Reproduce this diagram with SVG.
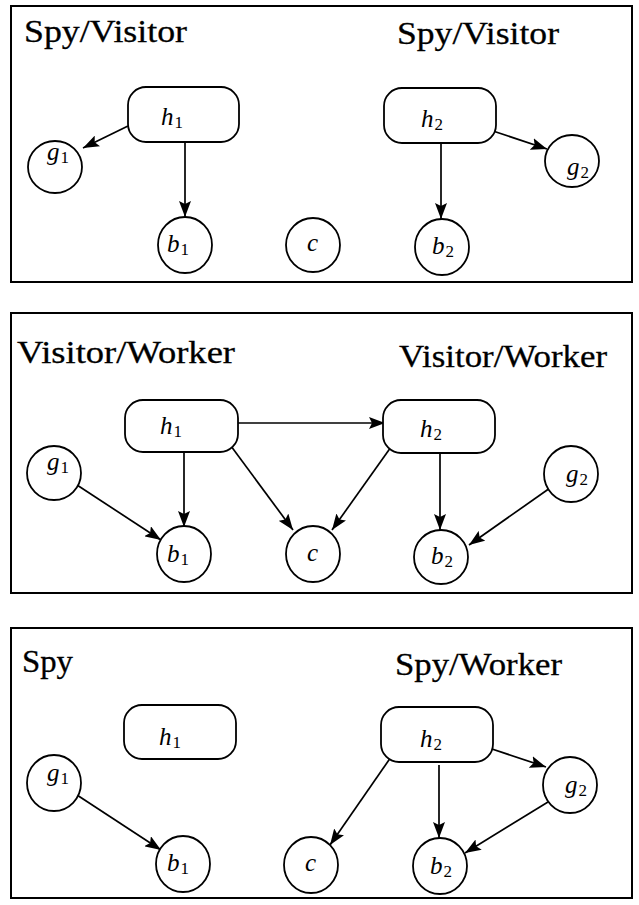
<svg xmlns="http://www.w3.org/2000/svg" width="639" height="905" viewBox="0 0 639 905">
  <style>
    .panel { fill: none; stroke: #000; stroke-width: 2; }
    .node { fill: #fff; stroke: #000; stroke-width: 1.8; }
    .title { font-family: "Liberation Serif", "Times New Roman", serif; font-size: 32px; fill: #000; stroke: #000; stroke-width: 0.3; }
    .lbl { font-family: "Liberation Serif", "Times New Roman", serif; font-size: 25px; font-style: italic; fill: #000; }
    .sub { font-size: 17px; font-style: normal; }
    .edge { fill: none; stroke: #000; stroke-width: 1.7; marker-end: url(#arrow); }
  </style>
  <defs>
    <marker id="arrow" markerUnits="userSpaceOnUse" markerWidth="16" markerHeight="12" refX="16" refY="6" orient="auto">
      <path d="M0,0 L16,6 L0,12 L3,6 z" fill="#000"/>
    </marker>
  </defs>
  <rect width="639" height="905" fill="#fff"/>

  <!-- Panel 1: Spy/Visitor vs Spy/Visitor -->
  <g id="panel1">
    <rect class="panel" x="11" y="6" width="621" height="276"/>
    <text class="title" x="24" y="42" textLength="163" lengthAdjust="spacingAndGlyphs">Spy/Visitor</text>
    <text class="title" x="397" y="44" textLength="162" lengthAdjust="spacingAndGlyphs">Spy/Visitor</text>
  </g>
  <g id="p1-connectors">
    <line class="edge" x1="128" y1="126" x2="83" y2="148"/>
    <line class="edge" x1="185" y1="142" x2="185" y2="217"/>
    <line class="edge" x1="441" y1="143" x2="441" y2="219"/>
    <line class="edge" x1="493" y1="131" x2="547" y2="149"/>
  </g>
  <g id="p1-h1"><rect class="node" x="128" y="87" width="111" height="55" rx="18"/>
    <text class="lbl" x="161" y="125">h<tspan class="sub" dx="1" dy="3">1</tspan></text></g>
  <g id="p1-g1"><ellipse class="node" cx="55" cy="167" rx="27" ry="26"/>
    <text class="lbl" x="47" y="160">g<tspan class="sub" dx="1" dy="3">1</tspan></text></g>
  <g id="p1-b1"><ellipse class="node" cx="185" cy="245" rx="27" ry="28"/>
    <text class="lbl" x="167" y="252">b<tspan class="sub" dx="1" dy="3">1</tspan></text></g>
  <g id="p1-c"><ellipse class="node" cx="313" cy="245" rx="27" ry="27"/>
    <text class="lbl" x="307" y="251">c</text></g>
  <g id="p1-b2"><ellipse class="node" cx="442" cy="247" rx="27" ry="28"/>
    <text class="lbl" x="432" y="254">b<tspan class="sub" dx="1" dy="3">2</tspan></text></g>
  <g id="p1-h2"><rect class="node" x="384" y="88" width="112" height="55" rx="18"/>
    <text class="lbl" x="421" y="127">h<tspan class="sub" dx="1" dy="3">2</tspan></text></g>
  <g id="p1-g2"><ellipse class="node" cx="572" cy="161" rx="27" ry="26"/>
    <text class="lbl" x="567" y="175">g<tspan class="sub" dx="1" dy="3">2</tspan></text></g>

  <!-- Panel 2: Visitor/Worker vs Visitor/Worker -->
  <g id="panel2">
    <rect class="panel" x="11" y="313" width="621" height="280"/>
    <text class="title" x="17" y="363" textLength="218" lengthAdjust="spacingAndGlyphs">Visitor/Worker</text>
    <text class="title" x="399" y="367" textLength="208" lengthAdjust="spacingAndGlyphs">Visitor/Worker</text>
  </g>
  <g id="p2-connectors">
    <line class="edge" x1="238" y1="423" x2="385" y2="423"/>
    <line class="edge" x1="184" y1="452" x2="184" y2="527"/>
    <line class="edge" x1="228" y1="442" x2="293" y2="530"/>
    <line class="edge" x1="391" y1="447" x2="332" y2="530"/>
    <line class="edge" x1="440" y1="453" x2="440" y2="530"/>
    <line class="edge" x1="77" y1="485" x2="161" y2="540"/>
    <line class="edge" x1="550" y1="488" x2="469" y2="545"/>
  </g>
  <g id="p2-h1"><rect class="node" x="125" y="400" width="113" height="52" rx="18"/>
    <text class="lbl" x="160" y="434">h<tspan class="sub" dx="1" dy="3">1</tspan></text></g>
  <g id="p2-h2"><rect class="node" x="383" y="400" width="112" height="53" rx="18"/>
    <text class="lbl" x="420" y="437">h<tspan class="sub" dx="1" dy="3">2</tspan></text></g>
  <g id="p2-g1"><ellipse class="node" cx="54" cy="473" rx="27" ry="27"/>
    <text class="lbl" x="47" y="470">g<tspan class="sub" dx="1" dy="3">1</tspan></text></g>
  <g id="p2-g2"><ellipse class="node" cx="571" cy="474" rx="27" ry="28"/>
    <text class="lbl" x="566" y="482">g<tspan class="sub" dx="1" dy="3">2</tspan></text></g>
  <g id="p2-b1"><ellipse class="node" cx="184" cy="554" rx="27" ry="28"/>
    <text class="lbl" x="167" y="562">b<tspan class="sub" dx="1" dy="3">1</tspan></text></g>
  <g id="p2-c"><ellipse class="node" cx="313" cy="554" rx="27" ry="28"/>
    <text class="lbl" x="307" y="561">c</text></g>
  <g id="p2-b2"><ellipse class="node" cx="441" cy="557" rx="27" ry="27"/>
    <text class="lbl" x="431" y="564">b<tspan class="sub" dx="1" dy="3">2</tspan></text></g>

  <!-- Panel 3: Spy vs Spy/Worker -->
  <g id="panel3">
    <rect class="panel" x="11" y="628" width="621" height="270"/>
    <text class="title" x="22" y="672" textLength="51" lengthAdjust="spacingAndGlyphs">Spy</text>
    <text class="title" x="395" y="675" textLength="167" lengthAdjust="spacingAndGlyphs">Spy/Worker</text>
  </g>
  <g id="p3-connectors">
    <line class="edge" x1="77" y1="795" x2="161" y2="850"/>
    <line class="edge" x1="391" y1="757" x2="330" y2="845"/>
    <line class="edge" x1="439" y1="765" x2="439" y2="838"/>
    <line class="edge" x1="489" y1="748" x2="546" y2="767"/>
    <line class="edge" x1="548" y1="802" x2="465" y2="853"/>
  </g>
  <g id="p3-h1"><rect class="node" x="124" y="705" width="112" height="54" rx="18"/>
    <text class="lbl" x="159" y="745">h<tspan class="sub" dx="1" dy="3">1</tspan></text></g>
  <g id="p3-h2"><rect class="node" x="381" y="707" width="112" height="55" rx="18"/>
    <text class="lbl" x="420" y="747">h<tspan class="sub" dx="1" dy="3">2</tspan></text></g>
  <g id="p3-g1"><ellipse class="node" cx="54" cy="783" rx="27" ry="28"/>
    <text class="lbl" x="47" y="781">g<tspan class="sub" dx="1" dy="3">1</tspan></text></g>
  <g id="p3-g2"><ellipse class="node" cx="570" cy="785" rx="27" ry="28"/>
    <text class="lbl" x="565" y="793">g<tspan class="sub" dx="1" dy="3">2</tspan></text></g>
  <g id="p3-b1"><ellipse class="node" cx="183" cy="864" rx="27" ry="28"/>
    <text class="lbl" x="167" y="871">b<tspan class="sub" dx="1" dy="3">1</tspan></text></g>
  <g id="p3-c"><ellipse class="node" cx="311" cy="865" rx="27" ry="28"/>
    <text class="lbl" x="305" y="871">c</text></g>
  <g id="p3-b2"><ellipse class="node" cx="440" cy="866" rx="27" ry="28"/>
    <text class="lbl" x="430" y="874">b<tspan class="sub" dx="1" dy="3">2</tspan></text></g>
</svg>
